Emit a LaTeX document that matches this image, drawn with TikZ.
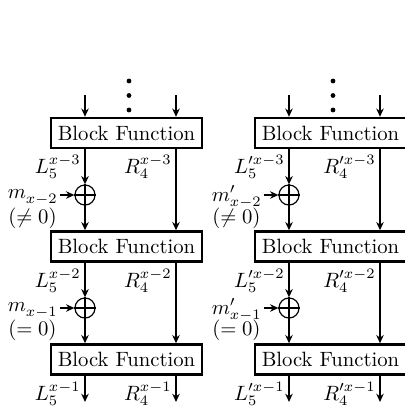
\documentclass[tikz,border=0pt]{standalone}
\usetikzlibrary{arrows.meta}
\begin{document}
\begin{tikzpicture}[x=0.483pt,y=-0.483pt,
  bf/.style={draw, line width=1.25pt, minimum width=72.8pt, minimum height=14.4pt, inner sep=0pt, fill=white},
  arr/.style={line width=0.82pt, -{Stealth[length=4pt,width=3.6pt]}},
  xo/.style={circle, draw, line width=0.58pt, minimum size=9.7pt, inner sep=0pt},
  lab/.style={anchor=east, inner sep=0pt},
  dot/.style={circle, fill, inner sep=0pt, minimum size=2.3pt}]
\useasboundingbox (0,0) rectangle (405,407);
\clip (0,0) rectangle (405,407);
\foreach \c/\cx/\p in {A/126.5/{}, B/330.5/{\prime}} {
  \pgfmathsetmacro{\lx}{\cx-41.5}
  \pgfmathsetmacro{\rx}{\cx+49.5}
  % dots
  \node[dot] (\c d1) at (\cx+2.5,81) {};
  \node[dot] (\c d2) at (\cx+2.5,95.5) {};
  \node[dot] (\c d3) at (\cx+2.5,110) {};
  % boxes
  \node[bf] (\c b1) at (\cx,133) {Block Function};
  \node[bf] (\c b2) at (\cx,246.5) {Block Function};
  \node[bf] (\c b3) at (\cx,359.5) {Block Function};
  % xors
  \node[xo] (\c x1) at (\lx,195) {};
  \node[xo] (\c x2) at (\lx,308) {};
  \draw[line width=0.58pt] (\c x1.north) -- (\c x1.south) (\c x1.west) -- (\c x1.east);
  \draw[line width=0.58pt] (\c x2.north) -- (\c x2.south) (\c x2.west) -- (\c x2.east);
  % free ends
  \coordinate (\c tl) at (\lx,95);
  \coordinate (\c tr) at (\rx,95);
  \coordinate (\c el) at (\lx,402);
  \coordinate (\c er) at (\rx,402);
  \coordinate (\c m1) at (\lx-25,195);
  \coordinate (\c m2) at (\lx-25,308);
  % arrows
  \draw[arr] (\c tl) -- (\lx,0 |- \c b1.north);
  \draw[arr] (\c tr) -- (\rx,0 |- \c b1.north);
  \draw[arr] (\lx,0 |- \c b1.south) -- (\c x1.north);
  \draw[arr] (\c x1.south) -- (\lx,0 |- \c b2.north);
  \draw[arr] (\rx,0 |- \c b1.south) -- (\rx,0 |- \c b2.north);
  \draw[arr] (\lx,0 |- \c b2.south) -- (\c x2.north);
  \draw[arr] (\c x2.south) -- (\lx,0 |- \c b3.north);
  \draw[arr] (\rx,0 |- \c b2.south) -- (\rx,0 |- \c b3.north);
  \draw[arr] (\lx,0 |- \c b3.south) -- (\c el);
  \draw[arr] (\rx,0 |- \c b3.south) -- (\c er);
  \draw[arr] (\c m1) -- (\c x1.west);
  \draw[arr] (\c m2) -- (\c x2.west);
  % labels
  \node[lab] (\c l1) at (\lx-4,167) {$L_5^{\p x-3}$};
  \node[lab] (\c r1) at (\rx-4,167) {$R_4^{\p x-3}$};
  \node[lab] (\c l2) at (\lx-4,281) {$L_5^{\p x-2}$};
  \node[lab] (\c r2) at (\rx-4,281) {$R_4^{\p x-2}$};
  \node[lab] (\c l3) at (\lx-4,394) {$L_5^{\p x-1}$};
  \node[lab] (\c r3) at (\rx-4,394) {$R_4^{\p x-1}$};
  \node[lab] (\c ma) at (\lx-27,197) {$m^{\p}_{x-2}$};
  \node[lab] (\c pa) at (\lx-28,218) {$(\neq 0)$};
  \node[lab] (\c mb) at (\lx-27,310) {$m^{\p}_{x-1}$};
  \node[lab] (\c pb) at (\lx-28,330) {$(= 0)$};
}
\end{tikzpicture}
\end{document}
